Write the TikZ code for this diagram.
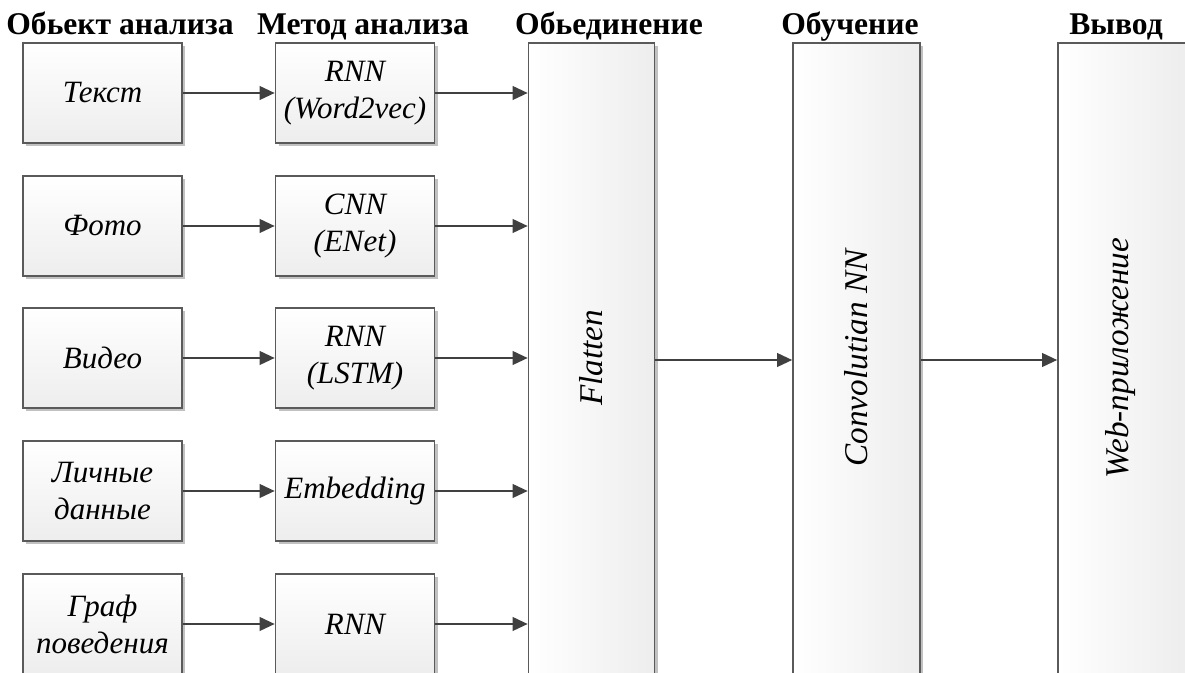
\documentclass[tikz,border=0pt]{standalone}
\usepackage{fontspec}
\setmainfont{Liberation Serif}
\usetikzlibrary{arrows.meta,shadows}

\definecolor{linegray}{HTML}{404040}
\definecolor{edgegray}{HTML}{5A5A5A}
\newcommand\tbfont{\fontsize{15.5}{18.5}\selectfont\itshape}
\newcommand\vtfont{\fontsize{16.6}{18.5}\selectfont\itshape}
\newcommand\hdfont{\fontsize{15.8}{17}\selectfont\bfseries}

\tikzset{
  box/.style={draw=edgegray,line width=0.8pt,top color=white,bottom color=gray!14,
    drop shadow={shadow xshift=1.5pt,shadow yshift=-1.5pt,fill=gray!70,opacity=0.7},
    inner sep=0pt,align=center,font=\tbfont,minimum width=79.5pt,minimum height=50pt},
  tallbox/.style={box,left color=white,right color=gray!14,minimum width=63pt,minimum height=317pt},
  vtext/.style={rotate=90,font=\vtfont},
  head/.style={font=\hdfont,anchor=base},
  arr/.style={-{Triangle[length=7.5pt,width=6.8pt]},draw=linegray,line width=1pt}
}

\begin{document}
\begin{tikzpicture}[x=0.5pt,y=-0.5pt]
      \useasboundingbox (0,0) rectangle (1185,673);
      \clip (0,0) rectangle (1185,673);
      % headers
      \node[head] (h1) at (120,35) {Обьект анализа};
      \node[head] (h2) at (363,35) {Метод анализа};
      \node[head] (h3) at (609,35) {Обьединение};
      \node[head] (h4) at (850,35) {Обучение};
      \node[head] (h5) at (1116,35) {Вывод};
      % objects
      \node[box] (o1) at (102.5,93) {Текст};
      \node[box] (o2) at (102.5,226) {Фото};
      \node[box] (o3) at (102.5,358) {Видео};
      \node[box] (o4) at (102.5,491) {Личные\\данные};
      \node[box] (o5) at (102.5,624) {Граф\\поведения};
      % methods
      \node[box] (m1) at (355,93) {RNN\\(Word2vec)};
      \node[box] (m2) at (355,226) {CNN\\(ENet)};
      \node[box] (m3) at (355,358) {RNN\\(LSTM)};
      \node[box] (m4) at (355,491) {Embedding};
      \node[box] (m5) at (355,624) {RNN};
      % tall blocks
      \node[tallbox] (flat) at (591.5,360) {};
      \node[tallbox,minimum width=63.5pt] (conv) at (856.5,360) {};
      \node[tallbox,minimum width=64.5pt] (web) at (1122.5,360) {};
      \node[vtext] (flat-t) at (591.5,358) {Flatten};
      \node[vtext] (conv-t) at (856.5,358) {Convolutian NN};
      \node[vtext] (web-t) at (1121,358) {Web-приложение};
      % connectors
      \draw[arr] (o1) -- (m1);
      \draw[arr] (o2) -- (m2);
      \draw[arr] (o3) -- (m3);
      \draw[arr] (o4) -- (m4);
      \draw[arr] (o5) -- (m5);
      \draw[arr] (m1.east) -- (m1.east -| flat.west);
      \draw[arr] (m2.east) -- (m2.east -| flat.west);
      \draw[arr] (m3.east) -- (m3.east -| flat.west);
      \draw[arr] (m4.east) -- (m4.east -| flat.west);
      \draw[arr] (m5.east) -- (m5.east -| flat.west);
      \draw[arr] (flat) -- (conv);
      \draw[arr] (conv) -- (web);
    \end{tikzpicture}
\end{document}
